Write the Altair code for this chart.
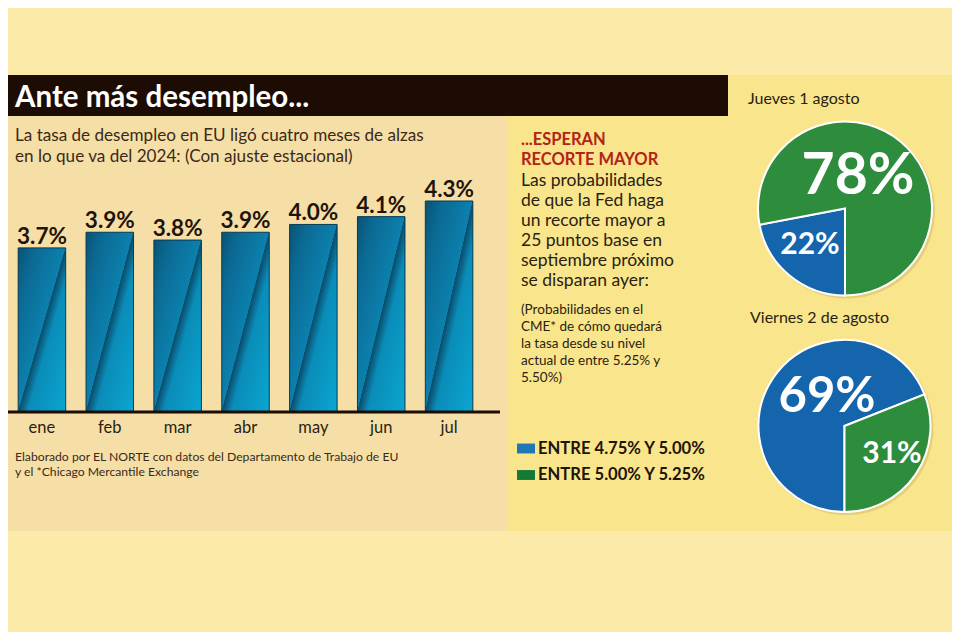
import math
import altair as alt
import pandas as pd

# ---------------- data ----------------
months = ["ene", "feb", "mar", "abr", "may", "jun", "jul"]
rates = [3.7, 3.9, 3.8, 3.9, 4.0, 4.1, 4.3]

pie_cats = ["ENTRE 4.75% Y 5.00%", "ENTRE 5.00% Y 5.25%"]
jueves_pct = [22, 78]
viernes_pct = [69, 31]

title_text = "Ante más desempleo..."
subtitle_lines = ["La tasa de desempleo en EU ligó cuatro meses de alzas",
                  "en lo que va del 2024: (Con ajuste estacional)"]
source_lines = ["Elaborado por EL NORTE con datos del Departamento de Trabajo de EU",
                "y el *Chicago Mercantile Exchange"]
head_lines = ["...ESPERAN", "RECORTE MAYOR"]
body_lines = ["Las probabilidades", "de que la Fed haga", "un recorte mayor a",
              "25 puntos base en", "septiembre próximo", "se disparan ayer:"]
note_lines = ["(Probabilidades en el", "CME* de cómo quedará", "la tasa desde su nivel",
              "actual de entre 5.25% y", "5.50%)"]
pie1_title = "Jueves 1 agosto"
pie2_title = "Viernes 2 de agosto"

# ---------------- styles ----------------
FONT = "Lato"
OX, OY = 8, 8  # page margin offset
BG_TOP = "#FCEBA8"
BG_LEFT = "#F6DFA6"
BG_RIGHT = "#F9E58C"
BAR_DARK = "#1D0C03"
TEXT = "#2A1E12"
RED = "#B2231B"
PIE_BLUE = "#1565AD"
PIE_GREEN = "#2E8D3C"
LEG_BLUE = "#2176B6"
LEG_GREEN = "#167A37"

one = alt.InlineData(values=[{"k": 1}])


def rect(x0, x1, y0, y1, color):
    return alt.Chart(one).mark_rect(color=color).encode(
        x=alt.value(x0 - OX), x2=alt.value(x1 - OX),
        y=alt.value(y0 - OY), y2=alt.value(y1 - OY))


def txt(lines, x, y, size, color=TEXT, weight="normal", lh=None, align="left",
        baseline="alphabetic"):
    kw = dict(align=align, baseline=baseline, font=FONT, fontSize=size,
              fontWeight=weight, color=color)
    if lh is not None:
        kw["lineHeight"] = lh
    return alt.Chart(one).mark_text(**kw).encode(
        x=alt.value(x - OX), y=alt.value(y - OY), text=alt.value(lines))


# ---------------- backgrounds ----------------
bg_right = rect(507, 960, 75, 531, BG_RIGHT)
bg_left = rect(0, 507, 116, 531, BG_LEFT)
title_bar = rect(0, 728, 75, 116, BAR_DARK)

# ---------------- bar chart ----------------
bar_df = pd.DataFrame({"mes": months, "tasa": rates})
x_scale = alt.Scale(domain=months, range=[0, 475], paddingInner=0.3, paddingOuter=0.15)
y_scale = alt.Scale(domain=[1.6, 4.3], range=[404, 193], zero=False, nice=False)

gradient = alt.LinearGradient(
    gradient="linear", x1=0, y1=0, x2=1, y2=1,
    stops=[
        alt.GradientStop(color="#0A5274", offset=0),
        alt.GradientStop(color="#0B6A94", offset=0.18),
        alt.GradientStop(color="#0C80AD", offset=0.495),
        alt.GradientStop(color="#0A4C6B", offset=0.5),
        alt.GradientStop(color="#0A8CB8", offset=0.6),
        alt.GradientStop(color="#0BA6D2", offset=1),
    ])

bars = alt.Chart(bar_df).mark_bar(color=gradient, stroke="#073A52", strokeWidth=1).encode(
    x=alt.X("mes:N", sort=months, scale=x_scale, axis=None),
    y=alt.Y("tasa:Q", scale=y_scale, axis=None),
    y2=alt.datum(1.6),
)
bar_labels = alt.Chart(bar_df).transform_calculate(
    lbl="format(datum.tasa, '.1f') + '%'"
).mark_text(dy=-4, baseline="alphabetic", font=FONT, fontSize=22.5, fontWeight="bold",
            color="#1F140A").encode(
    x=alt.X("mes:N", sort=months, scale=x_scale, axis=None),
    y=alt.Y("tasa:Q", scale=y_scale, axis=None),
    text="lbl:N",
)
month_labels = alt.Chart(bar_df).mark_text(baseline="alphabetic", font=FONT, fontSize=16.5,
                                            color=TEXT).encode(
    x=alt.X("mes:N", sort=months, scale=x_scale, axis=None),
    y=alt.value(433 - OY),
    text="mes:N",
)
bar_layer = alt.layer(bars, bar_labels, month_labels)

axis_line = alt.Chart(one).mark_rule(color=BAR_DARK, strokeWidth=3).encode(
    x=alt.value(0), x2=alt.value(500 - OX), y=alt.value(412 - OY))

# ---------------- pies ----------------
def pie_df(values):
    return pd.DataFrame({"cat": pie_cats, "pct": values, "idx": [0, 1]})


def pie_shadow(values, cx, cy, r):
    return alt.Chart(pie_df(values)).mark_arc(radius=r + 1, color="#8A6A10", opacity=0.18).encode(
        theta=alt.Theta("pct:Q", stack=True, scale=alt.Scale(range=[math.pi, 3 * math.pi])),
        order=alt.Order("idx:Q"),
        x=alt.value(cx - OX + 2), y=alt.value(cy - OY + 2),
    )


def pie(values, cx, cy, r):
    return alt.Chart(pie_df(values)).mark_arc(radius=r, stroke="white", strokeWidth=2).encode(
        theta=alt.Theta("pct:Q", stack=True, scale=alt.Scale(range=[math.pi, 3 * math.pi])),
        color=alt.Color("cat:N", scale=alt.Scale(domain=pie_cats, range=[PIE_BLUE, PIE_GREEN]),
                        legend=None),
        order=alt.Order("idx:Q"),
        x=alt.value(cx - OX), y=alt.value(cy - OY),
    )


def pie_label(values, i, cx, cy, size):
    return alt.Chart(pie_df(values)).transform_filter(
        alt.datum.cat == pie_cats[i]
    ).transform_calculate(lbl="datum.pct + '%'").mark_text(
        align="center", baseline="middle", font=FONT, fontSize=size, fontWeight="bold",
        color="white").encode(
        x=alt.value(cx - OX), y=alt.value(cy - OY), text="lbl:N")


sh1 = pie_shadow(jueves_pct, 845, 208.5, 87)
sh2 = pie_shadow(viernes_pct, 844.5, 426, 86)
pie1 = pie(jueves_pct, 845, 208.5, 87)
pie2 = pie(viernes_pct, 844.5, 426, 86)
p1a = pie_label(jueves_pct, 1, 858, 177, 57)
p1b = pie_label(jueves_pct, 0, 810, 245, 30)
p2a = pie_label(viernes_pct, 0, 827, 397, 49)
p2b = pie_label(viernes_pct, 1, 892, 454, 30)

# ---------------- legend ----------------
leg_df = pd.DataFrame({"cat": pie_cats})
leg_y = alt.Scale(domain=pie_cats, range=[448.5 - OY, 475 - OY], padding=0)
leg_sq = alt.Chart(leg_df).mark_point(shape="M-1,-0.55H1V0.55H-1Z", size=324, filled=True,
                                      opacity=1, strokeWidth=0).encode(
    x=alt.value(526 - OX),
    y=alt.Y("cat:N", scale=leg_y, axis=None),
    color=alt.Color("cat:N", scale=alt.Scale(domain=pie_cats, range=[LEG_BLUE, LEG_GREEN]),
                    legend=None),
)
leg_txt = alt.Chart(leg_df).mark_text(align="left", baseline="middle", font=FONT, fontSize=16.6,
                                      fontWeight="bold", color="#1E140A").encode(
    x=alt.value(538 - OX),
    y=alt.Y("cat:N", scale=leg_y, axis=None),
    text="cat:N",
)

# ---------------- texts ----------------
t_title = txt(title_text, 15, 107, 29.5, color="white", weight="bold")
t_sub = txt(subtitle_lines, 15, 141, 17.1, color="#3A2A1A", lh=21)
t_src = txt(source_lines, 15, 461, 12.2, color="#3A2A1A", lh=14.5)
t_head = txt(head_lines, 521, 145, 16.5, color=RED, weight="bold", lh=20)
t_body = txt(body_lines, 521, 186, 17.5, lh=20)
t_note = txt(note_lines, 521, 314, 13.5, lh=17)
t_p1 = txt(pie1_title, 748, 104, 16)
t_p2 = txt(pie2_title, 750, 323, 16)

chart = alt.layer(
    bg_right, bg_left, title_bar,
    bar_layer, axis_line,
    sh1, sh2, pie1, pie2, p1a, p1b, p2a, p2b,
    leg_sq, leg_txt,
    t_title, t_sub, t_src, t_head, t_body, t_note, t_p1, t_p2,
).resolve_scale(
    x="independent", y="independent", color="independent", theta="independent"
).properties(
    width=944, height=624, padding=0,
    autosize=alt.AutoSizeParams(type="none"),
    background=BG_TOP,
).configure_view(strokeWidth=0)

chart.save("out.html", embed_options={"renderer": "svg", "actions": False})
